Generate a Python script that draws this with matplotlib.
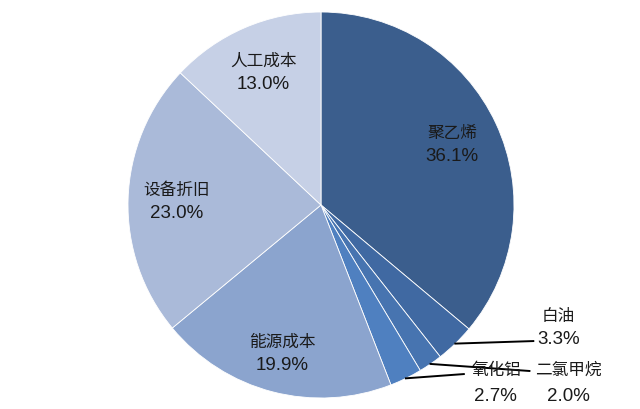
import numpy as np
import matplotlib
matplotlib.use("Agg")
import matplotlib.pyplot as plt

plt.rcParams['font.family'] = ['Liberation Sans', 'Noto Sans CJK SC', 'DejaVu Sans']

names = ["聚乙烯", "白油", "二氯甲烷", "氧化铝", "能源成本", "设备折旧", "人工成本"]
shares = [36.1, 3.3, 2.0, 2.7, 19.9, 23.0, 13.0]
colors = ["#3B5E8D", "#4069A2", "#4774B0", "#4F80C0", "#8BA4CE", "#AABAD9", "#C6D0E6"]

fig = plt.figure(figsize=(6.4, 4.1), dpi=100)
ax = fig.add_axes([128/640, 11/410, 386/640, 386/410])
wedges, _ = ax.pie(shares, colors=colors, startangle=90, counterclock=False,
                   wedgeprops=dict(edgecolor="white", linewidth=0.6))
ax.set_xlim(-1, 1)
ax.set_ylim(-1, 1)
ax.set_aspect("equal")
ax.axis("off")

name_size = 12
pct_size = 13.5
txt_color = "#1a1a1a"

# inner labels for big slices
inner_r = {0: 0.75, 4: 0.79, 5: 0.75, 6: 0.75}
for i, r in inner_r.items():
    w = wedges[i]
    ang = np.deg2rad((w.theta1 + w.theta2) / 2)
    x, y = r * np.cos(ang), r * np.sin(ang)
    ax.text(x, y + 0.06, names[i], ha="center", va="center", fontsize=name_size, color=txt_color)
    ax.text(x, y - 0.06, "%.1f%%" % shares[i], ha="center", va="center", fontsize=pct_size, color=txt_color)

# outer labels with leader lines for the small slices
outer = {1: ((1.10, -0.705), (1.23, -0.57), (1.23, -0.69)),
         2: ((1.08, -0.86), (1.28, -0.85), (1.28, -0.985)),
         3: ((0.74, -0.876), (0.91, -0.85), (0.905, -0.985))}
for i, (end, name_pos, pct_pos) in outer.items():
    w = wedges[i]
    ang = np.deg2rad((w.theta1 + w.theta2) / 2)
    ax.plot([np.cos(ang), end[0]], [np.sin(ang), end[1]], color="black", lw=1.4, clip_on=False)
    ax.text(name_pos[0], name_pos[1], names[i], ha="center", va="center", fontsize=name_size, color=txt_color)
    ax.text(pct_pos[0], pct_pos[1], "%.1f%%" % shares[i], ha="center", va="center", fontsize=pct_size, color=txt_color)

fig.savefig("out.png", dpi=100)
